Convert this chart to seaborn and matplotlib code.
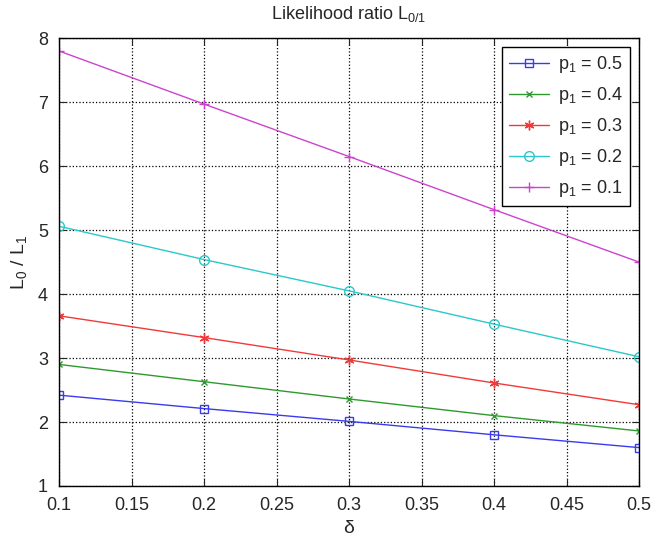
import numpy as np
import pandas as pd
import matplotlib
matplotlib.use('Agg')
import matplotlib.pyplot as plt
import seaborn as sns

# data
delta = [0.1, 0.2, 0.3, 0.4, 0.5]
ratio_p05 = [2.42, 2.21, 2.01, 1.80, 1.60]
ratio_p04 = [2.90, 2.63, 2.36, 2.10, 1.86]
ratio_p03 = [3.66, 3.32, 2.97, 2.61, 2.27]
ratio_p02 = [5.06, 4.54, 4.05, 3.53, 3.02]
ratio_p01 = [7.80, 6.97, 6.15, 5.32, 4.50]
labels = ['p$_1$ = 0.5', 'p$_1$ = 0.4', 'p$_1$ = 0.3', 'p$_1$ = 0.2', 'p$_1$ = 0.1']

series = [ratio_p05, ratio_p04, ratio_p03, ratio_p02, ratio_p01]

sns.set_style('ticks')
plt.rcParams['font.family'] = ['Liberation Sans', 'DejaVu Sans']
plt.rcParams['mathtext.default'] = 'regular'
plt.rcParams['xtick.direction'] = 'in'
plt.rcParams['ytick.direction'] = 'in'

colors = ['#3a3af0', '#2e9a2e', '#f03a3a', '#2cc8c8', '#cc44cc']
markers = ['s', 'x', (6, 2, 0), 'o', '+']
sizes = [6, 5, 7, 7, 7]

fig = plt.figure(figsize=(6.58, 5.38), dpi=100)
ax = fig.add_axes([0.0897, 0.0967, 0.8815, 0.8323])

for lab, vals, c, m, ms in zip(labels, series, colors, markers, sizes):
    df = pd.DataFrame({'delta': delta, 'ratio': vals})
    sns.lineplot(data=df, x='delta', y='ratio', color=c, marker=m, ax=ax,
                 label=lab, linewidth=1.0, markersize=ms,
                 markerfacecolor=('none' if m in ('s', 'o') else c),
                 markeredgecolor=c, markeredgewidth=1.0)

ax.set_xlim(0.1, 0.5)
ax.set_ylim(1, 8)
ax.set_xticks(np.arange(0.1, 0.501, 0.05))
ax.set_xticklabels(['0.1', '0.15', '0.2', '0.25', '0.3', '0.35', '0.4', '0.45', '0.5'])
ax.set_yticks(range(1, 9))
ax.tick_params(labelsize=13, top=True, right=True, length=5, width=0.8)
ax.tick_params(axis='x', pad=8)
ax.tick_params(axis='y', pad=8)
ax.grid(True, linestyle=':', color='black', linewidth=0.9)
for s in ax.spines.values():
    s.set_linewidth(1.0)
    s.set_color('black')
    s.set_visible(True)

ax.set_xlabel('δ', fontsize=14, labelpad=4)
ax.set_ylabel('L$_0$ / L$_1$', fontsize=14, labelpad=6)
ax.set_title('Likelihood ratio L$_{0/1}$', fontsize=13, pad=14)

leg = ax.legend(loc='upper right', fontsize=13, frameon=True,
                fancybox=False, edgecolor='black', framealpha=1,
                handlelength=2.2, handletextpad=0.5, borderaxespad=0.5,
                labelspacing=0.55)
leg.get_frame().set_linewidth(1.0)

fig.savefig('out.png', dpi=100)
